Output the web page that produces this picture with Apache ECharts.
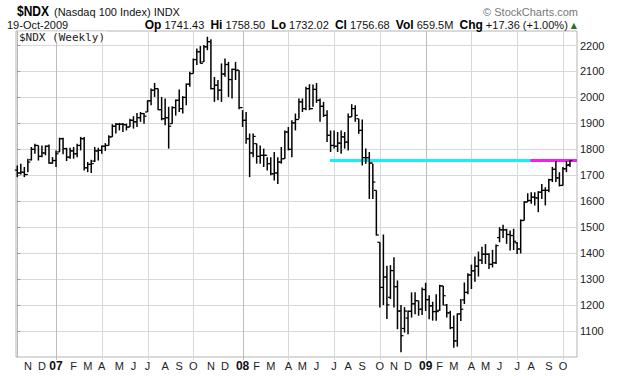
<!DOCTYPE html>
<html>
<head>
<meta charset="utf-8">
<script src="https://cdn.jsdelivr.net/npm/echarts@6.0.0/dist/echarts.min.js"></script>
<style>
  html, body { margin: 0; padding: 0; background: #fff; }
  #chart { width: 620px; height: 376px; }
</style>
</head>
<body>
<div id="chart"></div>
<script>
// weekly bars, week 0 = 16-Oct-2006 ... week 157 = 19-Oct-2009
const opens = [
  1720, 1709, 1712, 1703, 1760, 1800, 1815, 1773, 1786, 1812,
  1747, 1757, 1790, 1841, 1803, 1770, 1794, 1783, 1815, 1841,
  1729, 1742, 1755, 1794, 1796, 1812, 1815, 1848, 1889, 1897,
  1897, 1895, 1886, 1912, 1906, 1922, 1938, 1944, 1987, 2028,
  2034, 1953, 1918, 1922, 1899, 1961, 1989, 1957, 2000, 2051,
  2092, 2146, 2176, 2137, 2195, 2215, 2034, 2047, 2028, 2090,
  2127, 2069, 2108, 2105, 1961, 1912, 1841, 1786, 1822, 1773,
  1777, 1777, 1745, 1706, 1709, 1751, 1764, 1867, 1800, 1902,
  1915, 1983, 1957, 2034, 1957, 2031, 1989, 1966, 1931, 1854,
  1815, 1812, 1824, 1848, 1828, 1925, 1957, 1918, 1873, 1768,
  1768, 1747, 1642, 1442, 1268, 1308, 1230, 1333, 1271, 1177,
  1110, 1150, 1176, 1205, 1217, 1184, 1260, 1221, 1197, 1175,
  1180, 1274, 1200, 1170, 1113, 1062, 1166, 1220, 1249, 1316,
  1332, 1350, 1373, 1396, 1396, 1357, 1363, 1460, 1490, 1490,
  1472, 1468, 1440, 1416, 1526, 1597, 1603, 1616, 1613, 1635,
  1642, 1642, 1683, 1723, 1690, 1661, 1725, 1741.43
];
const highs = [
  1738, 1745, 1732, 1764, 1809, 1822, 1815, 1815, 1815, 1819,
  1770, 1796, 1845, 1845, 1806, 1806, 1809, 1822, 1848, 1848,
  1751, 1760, 1809, 1806, 1815, 1824, 1854, 1897, 1902, 1902,
  1902, 1899, 1918, 1928, 1940, 1944, 1940, 1989, 2034, 2056,
  2034, 2002, 1996, 1964, 1966, 1992, 2031, 2005, 2054, 2099,
  2150, 2189, 2198, 2202, 2234, 2224, 2079, 2067, 2131, 2150,
  2137, 2112, 2137, 2105, 1951, 1944, 1861, 1861, 1822, 1815,
  1803, 1770, 1770, 1790, 1770, 1809, 1873, 1886, 1912, 1938,
  1996, 1996, 2041, 2051, 2050, 2056, 1996, 1983, 1951, 1873,
  1873, 1867, 1873, 1867, 1938, 1974, 1970, 1918, 1915, 1803,
  1790, 1745, 1642, 1442, 1472, 1352, 1354, 1384, 1295, 1200,
  1192, 1179, 1249, 1249, 1217, 1268, 1286, 1238, 1213, 1242,
  1278, 1274, 1204, 1178, 1160, 1168, 1223, 1287, 1323, 1356,
  1387, 1406, 1425, 1435, 1400, 1413, 1433, 1500, 1510, 1494,
  1487, 1494, 1442, 1530, 1600, 1631, 1635, 1635, 1639, 1667,
  1654, 1687, 1732, 1755, 1712, 1732, 1755, 1758.50
];
const lows = [
  1693, 1703, 1693, 1712, 1757, 1783, 1757, 1770, 1777, 1745,
  1745, 1732, 1790, 1781, 1755, 1764, 1764, 1770, 1796, 1719,
  1712, 1709, 1751, 1757, 1783, 1794, 1815, 1848, 1861, 1873,
  1867, 1873, 1886, 1880, 1886, 1906, 1899, 1944, 1970, 2002,
  1951, 1912, 1893, 1803, 1899, 1930, 1944, 1938, 1970, 2041,
  2092, 2125, 2131, 2137, 2182, 2031, 1983, 1989, 1983, 2080,
  2002, 1996, 2067, 1955, 1886, 1822, 1693, 1770, 1745, 1745,
  1732, 1719, 1700, 1680, 1667, 1745, 1764, 1796, 1770, 1873,
  1918, 1944, 1951, 1951, 1964, 1979, 1906, 1925, 1828, 1790,
  1803, 1790, 1783, 1803, 1796, 1925, 1906, 1860, 1738, 1745,
  1609, 1609, 1468, 1191, 1200, 1146, 1223, 1191, 1107, 1018,
  1094, 1088, 1152, 1165, 1159, 1162, 1177, 1145, 1140, 1140,
  1178, 1198, 1152, 1107, 1036, 1040, 1139, 1204, 1242, 1262,
  1290, 1310, 1358, 1358, 1339, 1345, 1358, 1442, 1458, 1436,
  1410, 1412, 1397, 1399, 1526, 1597, 1590, 1584, 1558, 1609,
  1584, 1635, 1674, 1674, 1657, 1661, 1712, 1732.02
];
const closes = [
  1709, 1712, 1703, 1751, 1800, 1815, 1773, 1786, 1812, 1747,
  1757, 1783, 1841, 1803, 1770, 1794, 1783, 1815, 1841, 1729,
  1742, 1745, 1794, 1796, 1812, 1815, 1848, 1889, 1897, 1897,
  1895, 1886, 1912, 1906, 1922, 1938, 1928, 1987, 2028, 2034,
  1953, 1918, 1922, 1889, 1961, 1989, 1957, 2000, 2051, 2092,
  2146, 2176, 2131, 2195, 2215, 2034, 2047, 2028, 2090, 2127,
  2069, 2108, 2105, 1961, 1912, 1841, 1786, 1850, 1773, 1777,
  1777, 1745, 1706, 1709, 1751, 1764, 1867, 1800, 1902, 1915,
  1983, 1957, 2034, 1957, 2031, 1989, 1966, 1931, 1854, 1815,
  1812, 1824, 1848, 1828, 1925, 1957, 1931, 1873, 1768, 1768,
  1747, 1674, 1470, 1268, 1308, 1201, 1333, 1271, 1177, 1082,
  1177, 1176, 1205, 1217, 1184, 1260, 1221, 1197, 1175, 1175,
  1274, 1236, 1170, 1113, 1062, 1166, 1184, 1249, 1316, 1332,
  1350, 1373, 1396, 1396, 1357, 1363, 1429, 1490, 1490, 1472,
  1468, 1446, 1416, 1526, 1597, 1603, 1616, 1613, 1635, 1642,
  1642, 1683, 1723, 1690, 1661, 1725, 1738, 1756.68
];

// x axis: first week of each month
const monthIdx = [3, 7, 11, 16, 20, 24, 29, 33, 37, 42, 46, 50, 55, 59, 64, 68, 72, 77,
  81, 85, 90, 94, 98, 103, 107, 111, 116, 120, 124, 129, 133, 137, 142, 146, 151, 155];
const monthLabels = ['N', 'D', '07', 'F', 'M', 'A', 'M', 'J', 'J', 'A', 'S', 'O',
  'N', 'D', '08', 'F', 'M', 'A', 'M', 'J', 'J', 'A', 'S', 'O',
  'N', 'D', '09', 'F', 'M', 'A', 'M', 'J', 'J', 'A', 'S', 'O'];
const quarterIdx = [11, 24, 37, 50, 64, 77, 90, 103, 116, 129, 142, 155];
const yearIdx = [11, 64, 116];
const yTicks = [1100, 1200, 1300, 1400, 1500, 1600, 1700, 1800, 1900, 2000, 2100, 2200];

// horizontal level lines
const cyanLine = [[88.8, 1757], [145.7, 1757]];
const magentaLine = [[145.7, 1757], [159, 1757]];

const Y_MIN = 1000, Y_MAX = 2256;

const ohlc = closes.map((c, i) => [i, opens[i], highs[i], lows[i], c]);

const chart = echarts.init(document.getElementById('chart'), null, { renderer: 'svg' });

const baseFont = 'Liberation Sans, Arial, sans-serif';

const option = {
  animation: false,
  grid: {
    left: 16, right: 43, top: 31, bottom: 19,
    show: true, borderColor: '#b4b4b4', borderWidth: 1
  },
  xAxis: {
    type: 'value',
    min: -0.37,
    max: 159,
    axisLine: { show: false },
    axisTick: { show: false },
    splitLine: { show: false },
    axisLabel: {
      customValues: monthIdx,
      margin: 3,
      color: '#222',
      fontSize: 11,
      fontFamily: baseFont,
      formatter: function (v) {
        const k = monthIdx.indexOf(v)
        if (k < 0) return ''
        const t = monthLabels[k]
        return yearIdx.indexOf(v) >= 0 ? '{b|' + t + '}' : t
      },
      rich: {
        b: { fontWeight: 'bold', fontSize: 12, fontFamily: baseFont, color: '#111' }
      }
    }
  },
  yAxis: {
    type: 'value',
    position: 'right',
    min: Y_MIN,
    max: Y_MAX,
    interval: 100,
    axisLine: { show: true, lineStyle: { color: '#aaa', type: 'dotted' } },
    axisTick: { show: true, customValues: yTicks, length: 3, lineStyle: { color: '#999' } },
    splitLine: { show: true, lineStyle: { color: '#d8d8d8', width: 1 } },
    axisLabel: {
      customValues: yTicks,
      margin: 3,
      color: '#222',
      fontSize: 11,
      fontFamily: baseFont,
      formatter: function (v) { return String(v) }
    }
  },
  graphic: [
    { type: 'text', x: 17, y: 11, scaleX: 0.8, style: { text: '$NDX', fontSize: 15, fontWeight: 'bold', fontFamily: baseFont, fill: '#000', textVerticalAlign: 'middle' } },
    { type: 'text', x: 54, y: 12, style: { text: '(Nasdaq 100 Index) INDX', fontSize: 11, fontFamily: baseFont, fill: '#111', textVerticalAlign: 'middle' } },
    { type: 'text', x: 578, y: 12, style: { text: '© StockCharts.com', fontSize: 11, fontFamily: baseFont, fill: '#777', textAlign: 'right', textVerticalAlign: 'middle' } },
    { type: 'text', x: 7, y: 25, style: { text: '19-Oct-2009', fontSize: 11, fontFamily: baseFont, fill: '#111', textVerticalAlign: 'middle' } },
    {
      type: 'text', x: 577, y: 25,
      style: {
        text: '{b|Op} 1741.43  {b|Hi} 1758.50  {b|Lo} 1732.02  {b|Cl} 1756.68  {b|Vol} 659.5M  {b|Chg} +17.36 (+1.00%) {t|▲}',
        fontSize: 11, fontFamily: baseFont, fill: '#111', textAlign: 'right', textVerticalAlign: 'middle',
        rich: {
          b: { fontSize: 12, fontWeight: 'bold', fontFamily: baseFont, fill: '#000' },
          t: { fontSize: 8, fontFamily: 'DejaVu Sans', fill: '#2a6e2a' }
        }
      }
    },
    {
      type: 'text', x: 18, y: 37, z: 20,
      style: {
        text: '$NDX (Weekly)', fontSize: 11, fontFamily: 'DejaVu Sans Mono, monospace', fill: '#222',
        textVerticalAlign: 'middle', backgroundColor: '#fff', padding: [0, 2, 0, 1]
      }
    }
  ],
  series: [
    {
      // quarterly vertical grid lines
      type: 'custom',
      z: 1,
      silent: true,
      data: quarterIdx,
      renderItem: function (params, api) {
        const v = api.value(0)
        const top = api.coord([v, Y_MAX])
        const bot = api.coord([v, Y_MIN])
        const x = Math.round(top[0]) + 0.5
        const isYear = yearIdx.indexOf(v) >= 0
        return {
          type: 'line',
          shape: { x1: x, y1: top[1], x2: x, y2: bot[1] + 3 },
          style: { stroke: isYear ? '#bdbdbd' : '#d8d8d8', lineWidth: 1 }
        }
      }
    },
    {
      type: 'line',
      z: 2,
      silent: true,
      symbol: 'none',
      data: cyanLine,
      lineStyle: { color: '#16f2f2', width: 3 }
    },
    {
      type: 'line',
      z: 2,
      silent: true,
      symbol: 'none',
      data: magentaLine,
      lineStyle: { color: '#f21ef2', width: 3 }
    },
    {
      // OHLC bars: left tick = open, right tick = close
      type: 'custom',
      z: 5,
      silent: true,
      data: ohlc,
      renderItem: function (params, api) {
        const x = api.value(0)
        const pH = api.coord([x, api.value(2)])
        const pL = api.coord([x, api.value(3)])
        const pO = api.coord([x, api.value(1)])
        const pC = api.coord([x, api.value(4)])
        const px = pH[0]
        return {
          type: 'group',
          children: [
            { type: 'line', shape: { x1: px, y1: pH[1], x2: px, y2: pL[1] }, style: { stroke: '#000', lineWidth: 1.5 } },
            { type: 'line', shape: { x1: px - 2.5, y1: pO[1], x2: px, y2: pO[1] }, style: { stroke: '#000', lineWidth: 1.2 } },
            { type: 'line', shape: { x1: px, y1: pC[1], x2: px + 2.5, y2: pC[1] }, style: { stroke: '#000', lineWidth: 1.2 } }
          ]
        }
      }
    }
  ]
}

chart.setOption(option)
window.addEventListener('resize', chart.resize)
</script>
</body>
</html>
